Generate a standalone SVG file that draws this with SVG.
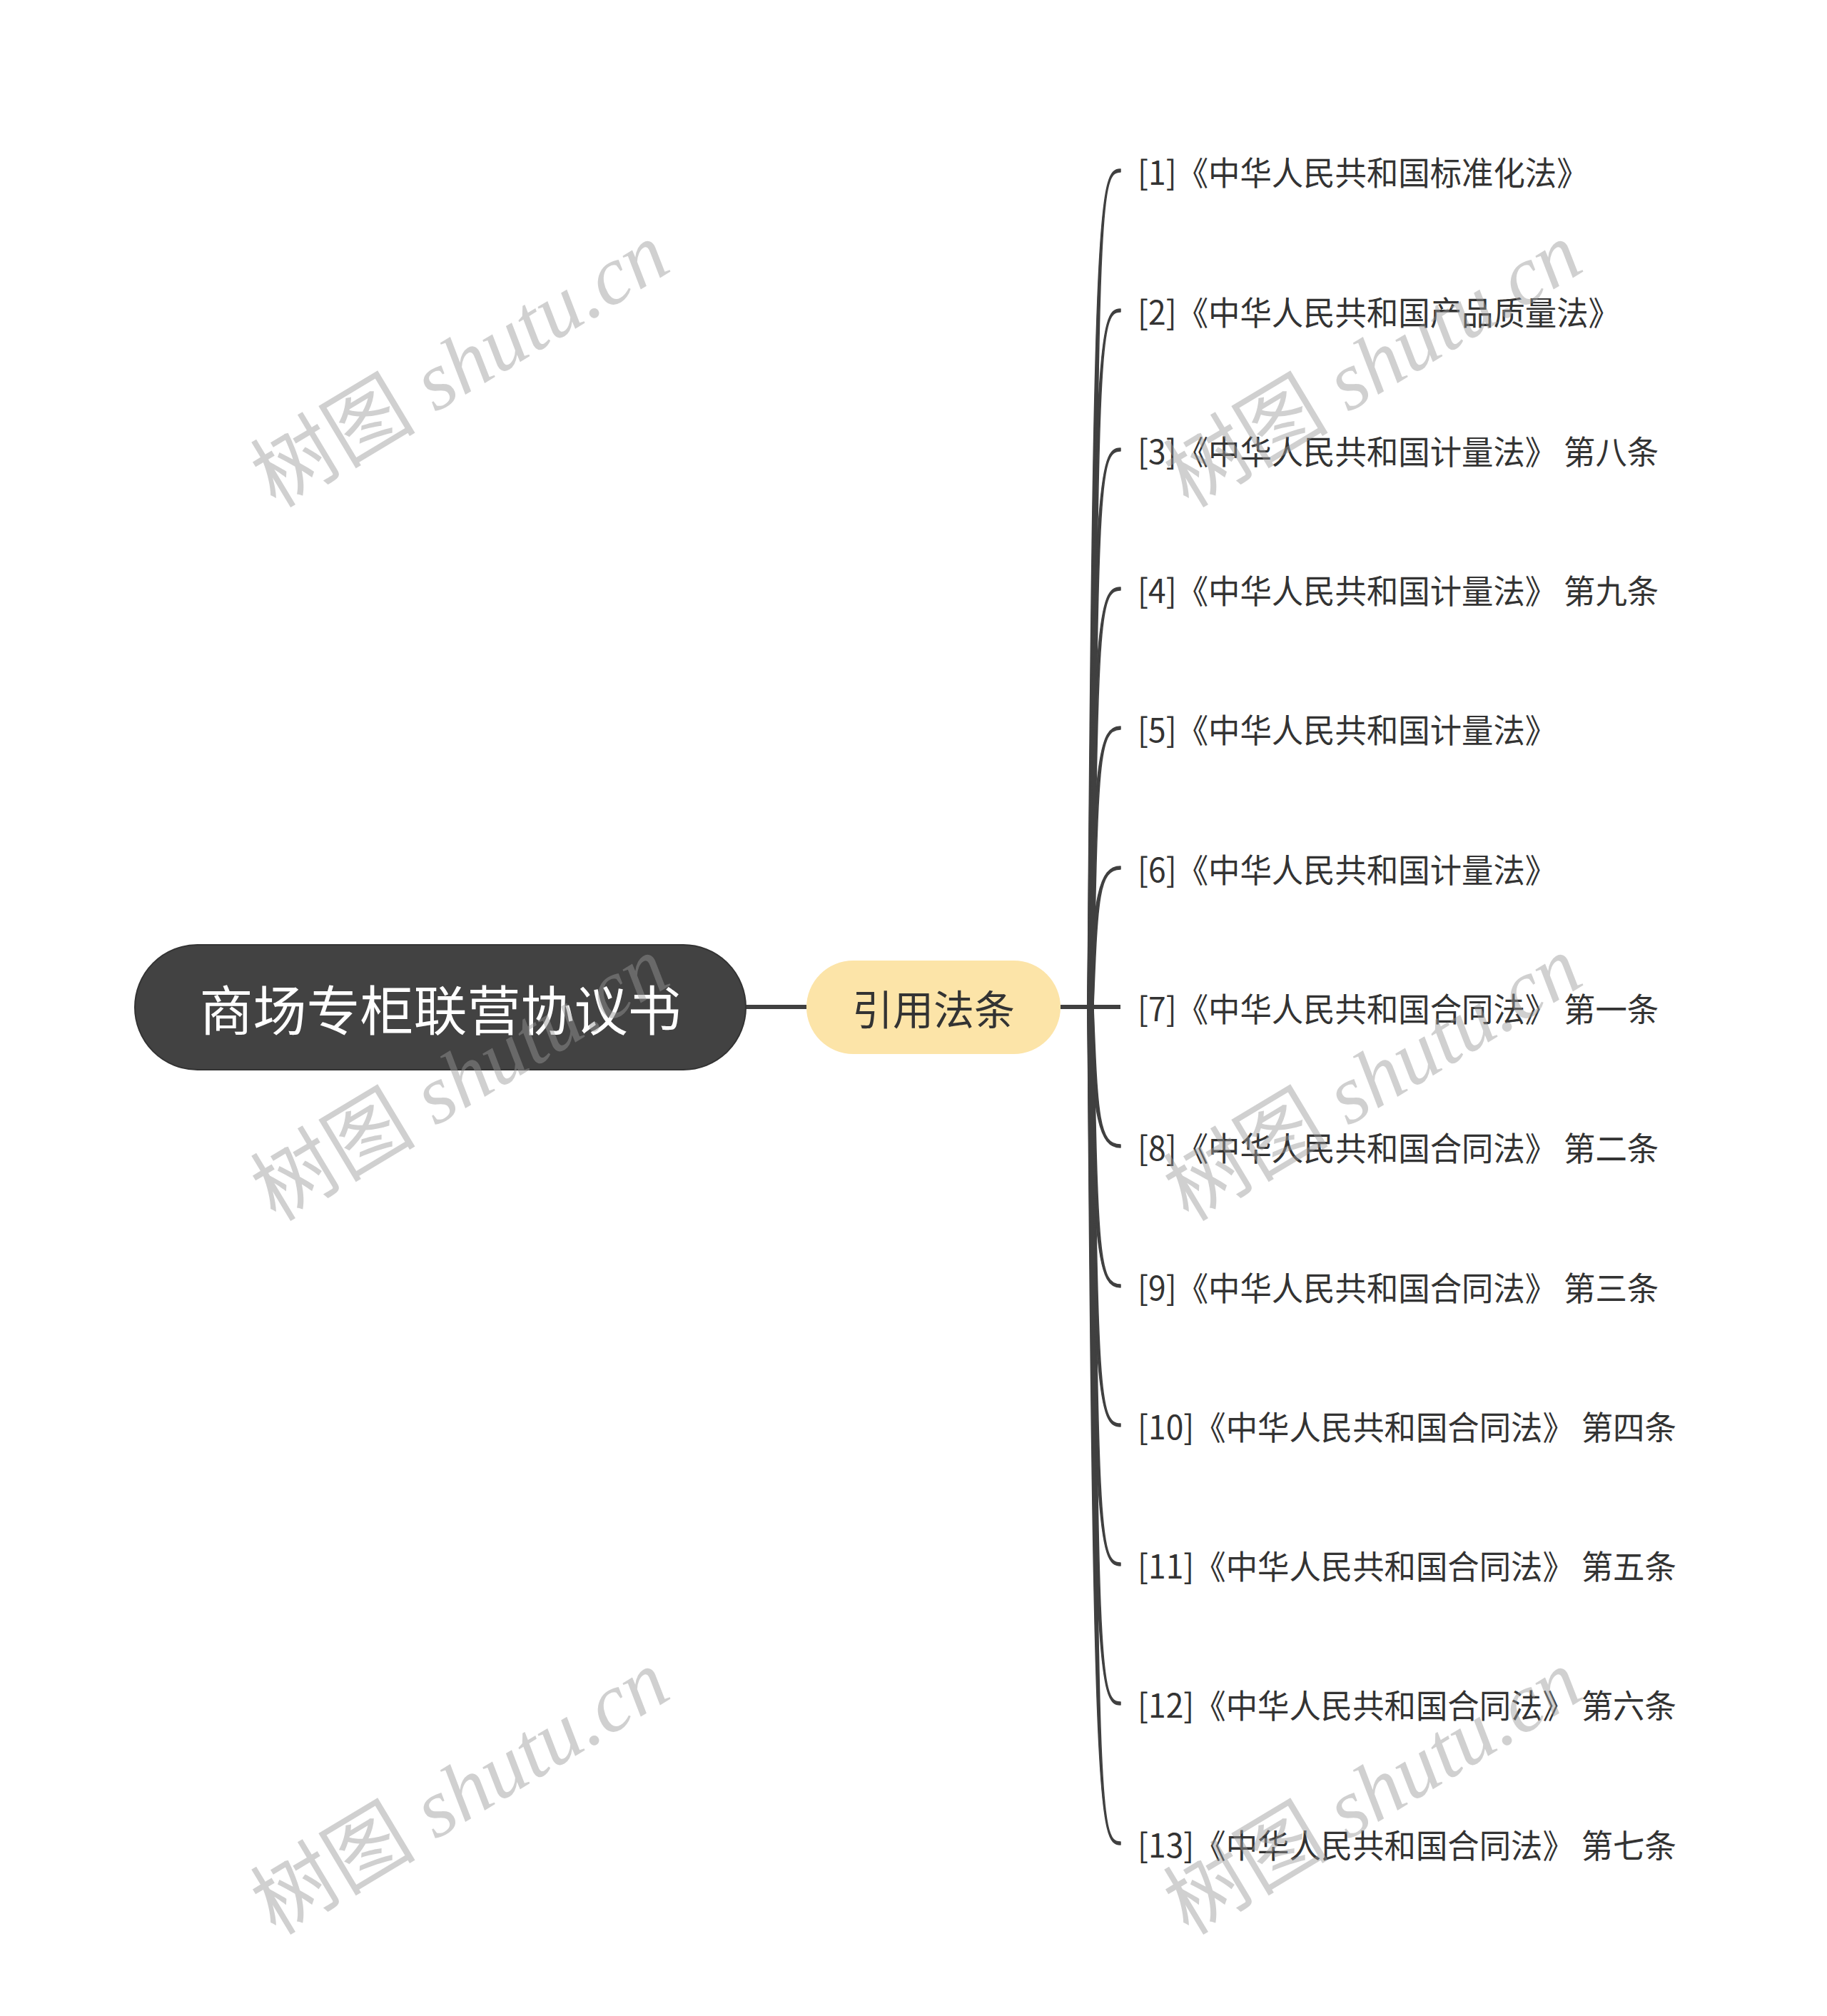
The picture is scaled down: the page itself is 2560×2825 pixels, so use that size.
<svg xmlns="http://www.w3.org/2000/svg" width="2560" height="2825" viewBox="0 0 2560 2825">
<style>
.leaf{font-family:"Noto Sans CJK SC","Noto Sans",sans-serif;font-size:46px;fill:#333333;dominant-baseline:central}
.edge{fill:none;stroke:#404040;stroke-width:6;stroke-linecap:butt}
.br{fill:#404040;stroke:#404040;stroke-width:1.5;stroke-linejoin:round}
.wm{font-family:"Liberation Serif","Noto Sans CJK SC",serif;font-size:116px;fill:#999999;opacity:0.45;text-anchor:middle;dominant-baseline:central}
</style>
<rect width="2560" height="2825" fill="#ffffff"/>
<g id="connectors">
<line class="edge" x1="1045" y1="1411" x2="1130" y2="1411"/>
<line class="edge" x1="1486" y1="1411" x2="1570" y2="1411"/>
<path class="br" d="M1524 1411 C1532 279,1540 237,1570 237 L1570 241 C1540 241,1538 279,1532 1411Z"/>
<path class="br" d="M1524 1411 C1532 475,1540 433,1570 433 L1570 437 C1540 437,1538 475,1532 1411Z"/>
<path class="br" d="M1524 1411 C1532 670,1540 628,1570 628 L1570 632 C1540 632,1538 670,1532 1411Z"/>
<path class="br" d="M1524 1411 C1532 865,1540 823,1570 823 L1570 827 C1540 827,1538 865,1532 1411Z"/>
<path class="br" d="M1524 1411 C1532 1060,1540 1018,1570 1018 L1570 1022 C1540 1022,1538 1060,1532 1411Z"/>
<path class="br" d="M1524 1411 C1532 1256,1540 1214,1570 1214 L1570 1218 C1540 1218,1538 1256,1532 1411Z"/>
<path class="br" d="M1524 1411 C1532 1566,1540 1608,1570 1608 L1570 1604 C1540 1604,1538 1566,1532 1411Z"/>
<path class="br" d="M1524 1411 C1532 1762,1540 1804,1570 1804 L1570 1800 C1540 1800,1538 1762,1532 1411Z"/>
<path class="br" d="M1524 1411 C1532 1957,1540 1999,1570 1999 L1570 1995 C1540 1995,1538 1957,1532 1411Z"/>
<path class="br" d="M1524 1411 C1532 2152,1540 2194,1570 2194 L1570 2190 C1540 2190,1538 2152,1532 1411Z"/>
<path class="br" d="M1524 1411 C1532 2347,1540 2389,1570 2389 L1570 2385 C1540 2385,1538 2347,1532 1411Z"/>
<path class="br" d="M1524 1411 C1532 2543,1540 2585,1570 2585 L1570 2581 C1540 2581,1538 2543,1532 1411Z"/>
</g>
<g id="root">
<rect x="189" y="1324" width="856" height="175" rx="87.5" fill="#424242" stroke="#333333" stroke-width="2"/>
<text x="617" y="1411" text-anchor="middle" dominant-baseline="central" font-family="Noto Sans CJK SC, sans-serif" font-size="75" fill="#ffffff">商场专柜联营协议书</text>
</g>
<g id="branch">
<rect x="1130" y="1346" width="356" height="131" rx="65.5" fill="#FCE4A8"/>
<text x="1308" y="1411" text-anchor="middle" dominant-baseline="central" font-family="Noto Sans CJK SC, sans-serif" font-size="57" fill="#333333">引用法条</text>
</g>
<g id="leaf1"><text class="leaf" transform="translate(1594 239) scale(0.965 1)">[1]《中华人民共和国标准化法》</text></g>
<g id="leaf2"><text class="leaf" transform="translate(1594 435) scale(0.965 1)">[2]《中华人民共和国产品质量法》</text></g>
<g id="leaf3"><text class="leaf" transform="translate(1594 630) scale(0.965 1)">[3]《中华人民共和国计量法》 第八条</text></g>
<g id="leaf4"><text class="leaf" transform="translate(1594 825) scale(0.965 1)">[4]《中华人民共和国计量法》 第九条</text></g>
<g id="leaf5"><text class="leaf" transform="translate(1594 1020) scale(0.965 1)">[5]《中华人民共和国计量法》</text></g>
<g id="leaf6"><text class="leaf" transform="translate(1594 1216) scale(0.965 1)">[6]《中华人民共和国计量法》</text></g>
<g id="leaf7"><text class="leaf" transform="translate(1594 1411) scale(0.965 1)">[7]《中华人民共和国合同法》 第一条</text></g>
<g id="leaf8"><text class="leaf" transform="translate(1594 1606) scale(0.965 1)">[8]《中华人民共和国合同法》 第二条</text></g>
<g id="leaf9"><text class="leaf" transform="translate(1594 1802) scale(0.965 1)">[9]《中华人民共和国合同法》 第三条</text></g>
<g id="leaf10"><text class="leaf" transform="translate(1594 1997) scale(0.965 1)">[10]《中华人民共和国合同法》 第四条</text></g>
<g id="leaf11"><text class="leaf" transform="translate(1594 2192) scale(0.965 1)">[11]《中华人民共和国合同法》 第五条</text></g>
<g id="leaf12"><text class="leaf" transform="translate(1594 2387) scale(0.965 1)">[12]《中华人民共和国合同法》 第六条</text></g>
<g id="leaf13"><text class="leaf" transform="translate(1594 2583) scale(0.965 1)">[13]《中华人民共和国合同法》 第七条</text></g>
<g id="watermarks">
<text class="wm" transform="translate(645 512) rotate(-31)">树图 <tspan font-style="italic">shutu.cn</tspan></text>
<text class="wm" transform="translate(1924 512) rotate(-31)">树图 <tspan font-style="italic">shutu.cn</tspan></text>
<text class="wm" transform="translate(645 1512) rotate(-31)">树图 <tspan font-style="italic">shutu.cn</tspan></text>
<text class="wm" transform="translate(1924 1512) rotate(-31)">树图 <tspan font-style="italic">shutu.cn</tspan></text>
<text class="wm" transform="translate(645 2512) rotate(-31)">树图 <tspan font-style="italic">shutu.cn</tspan></text>
<text class="wm" transform="translate(1924 2512) rotate(-31)">树图 <tspan font-style="italic">shutu.cn</tspan></text>
</g>
</svg>
